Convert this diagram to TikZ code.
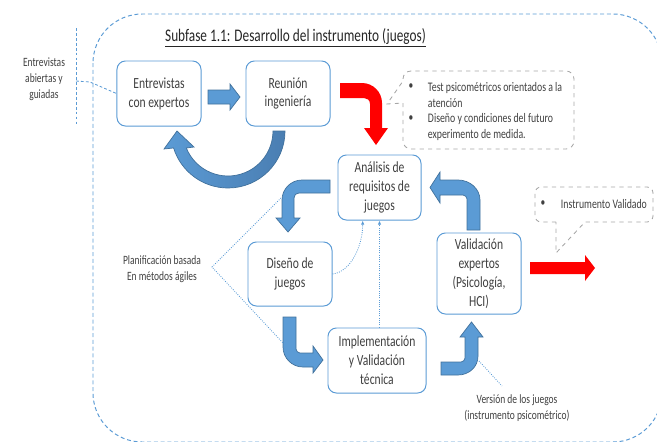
\documentclass[tikz,border=0pt]{standalone}
\usepackage{fontspec}
\setmainfont{Carlito}[FakeStretch=0.75]
\usetikzlibrary{arrows.meta}
\definecolor{boxblue}{HTML}{5B9BD5}
\definecolor{arrowedge}{HTML}{41719C}
\definecolor{arrowdark}{HTML}{4A7EB2}
\definecolor{textgray}{HTML}{404040}
\definecolor{notegray}{HTML}{A6A6A6}
\begin{document}
\begin{tikzpicture}[x=0.025cm, y=-0.025cm,
    stage/.style={draw=boxblue, fill=white, line width=0.7pt, rounded corners=6pt,
                  align=center, text=textgray, font=\fontsize{11}{13.5}\selectfont,
                  minimum width=2.1cm, minimum height=1.625cm, inner sep=1pt},
    bluearrow/.style={fill=boxblue, draw=arrowedge, line width=0.5pt},
    redarrow/.style={fill=red},
    callout/.style={draw=notegray, dashed, line width=0.6pt},
    dotlink/.style={draw=boxblue, densely dotted, line width=0.6pt},
    small/.style={text=textgray, font=\fontsize{9}{11.3}\selectfont, align=center}]
      \useasboundingbox (0, 0) rectangle (657, 441);
      \begin{scope}
        \clip (0, 0) rectangle (657, 441);
        \draw [boxblue, line width=0.7pt, dash pattern=on 2.8pt off 2pt, rounded corners=35pt]
              (93, 14) rectangle (662, 442);
      \end{scope}
      \node (title) at (295.5, 38) [font=\fontsize{12.6}{15}\selectfont, text=black!85]
            {\underline{Subfase 1.1: Desarrollo del instrumento (juegos)}};
      \node (entrev) [stage] at (159, 93.5) {Entrevistas\\con expertos};
      \node (reunion) [stage] at (288, 93.5) {Reunión\\ingeniería};
      \node (analisis) [stage, minimum width=2.075cm] at (379.5, 187.5) {Análisis de\\requisitos de\\juegos};
      \node (diseno) [stage, minimum height=1.6cm] at (290, 274) {Diseño de\\juegos};
      \node (implem) [stage, minimum width=2.45cm] at (377, 360.5) {Implementación\\y Validación\\técnica};
      \node (valid) [stage, minimum height=2.025cm] at (479, 273.5) {Validación\\expertos\\(Psicología,\\HCI)};
      \node (abiertas) [small] at (44, 79) {Entrevistas\\abiertas y\\guiadas};
      \coordinate (notept) at (76, 81);
      \coordinate (notebend) at (90, 82);
      \draw [boxblue, line width=0.7pt, dash pattern=on 2pt off 1.5pt] (76, 28) -- (76, 125);
      \draw [boxblue, line width=0.6pt, dash pattern=on 2pt off 1.5pt] (notept) -- (notebend) -- (entrev.west);
      \draw [bluearrow] (208, 90) -- (230, 90) -- (230, 84) -- (240, 97) -- (230, 110) -- (230, 104) -- (208, 104) -- cycle;
      \shadedraw [left color=boxblue, right color=arrowdark, draw=arrowedge, line width=0.5pt]
            (285, 131) arc [start angle=0, end angle=162.7, radius=57] -- (164, 149) -- (177, 131)
            -- (194, 147) -- (186.3, 148) arc [start angle=157.8, end angle=0, radius=45] -- cycle;
      \fill [redarrow] (340, 83) -- (362, 83) .. controls (373, 83) and (382, 92) .. (382, 103) -- (382, 128)
            -- (388, 128) -- (376, 145) -- (364, 128) -- (370, 128) -- (370, 104)
            .. controls (370, 100) and (367, 98) .. (364, 98) -- (340, 98) -- cycle;
      \draw [bluearrow] (330, 180) -- (302, 180) .. controls (291, 180) and (282, 189) .. (282, 200) -- (282, 218)
            -- (276, 218) -- (288, 232) -- (300, 218) -- (294, 218) -- (294, 198)
            .. controls (294, 195) and (296, 193) .. (299, 193) -- (330, 193) -- cycle;
      \draw [bluearrow] (283, 317) -- (283, 347) .. controls (283, 358) and (292, 367) .. (303, 367) -- (313, 367)
            -- (313, 373) -- (323, 360) -- (313, 346) -- (313, 353) -- (300, 353)
            .. controls (298, 353) and (296, 351) .. (296, 349) -- (296, 317) -- cycle;
      \draw [bluearrow] (441, 362) -- (461, 362) .. controls (463, 362) and (465, 360) .. (465, 358) -- (465, 337)
            -- (460, 337) -- (471.5, 322) -- (483, 337) -- (478, 337) -- (478, 356)
            .. controls (478, 367) and (469, 375) .. (458, 375) -- (441, 375) -- cycle;
      \draw [bluearrow] (467, 230) -- (467, 199) .. controls (467, 197) and (465, 195) .. (463, 195) -- (440, 195)
            -- (440, 203) -- (430, 187.5) -- (440, 172) -- (440, 180) -- (458, 180)
            .. controls (470, 180) and (480, 189) .. (480, 200) -- (480, 230) -- cycle;
      \fill [redarrow] (530, 262) -- (585, 262) -- (585, 255) -- (595, 268) -- (585, 281) -- (585, 274) -- (530, 274) -- cycle;
      \draw [callout] (403, 103) -- (403, 141) .. controls (403, 145.4) and (406.6, 149) .. (411, 149)
            -- (566, 149) .. controls (570.4, 149) and (574, 145.4) .. (574, 141)
            -- (574, 79) .. controls (574, 74.6) and (570.4, 71) .. (566, 71)
            -- (411, 71) .. controls (406.6, 71) and (403, 74.6) .. (403, 79)
            -- (403, 81) -- (387, 104) -- cycle;
      \node (bul1) [small] at (411, 87) {•};
      \node (test) [small, anchor=west, align=left, font=\fontsize{9.3}{11.3}\selectfont] at (423, 95) {Test psicométricos orientados a la\\atención};
      \node (bul2) [small] at (411, 119) {•};
      \node (futuro) [small, anchor=west, align=left, font=\fontsize{9.3}{11.3}\selectfont] at (423, 127) {Diseño y condiciones del futuro\\experimento de medida.};
      \draw [callout] (556, 222) -- (541, 222) .. controls (537.7, 222) and (535, 219.3) .. (535, 216)
            -- (535, 193) .. controls (535, 189.7) and (537.7, 187) .. (541, 187)
            -- (647, 187) .. controls (650.3, 187) and (653, 189.7) .. (653, 193)
            -- (653, 216) .. controls (653, 219.3) and (650.3, 222) .. (647, 222)
            -- (585, 222) -- (556, 253) -- cycle;
      \node (bul3) [small] at (543, 204) {•};
      \node (validado) [small, anchor=west, font=\fontsize{9.3}{11.3}\selectfont] at (556, 204) {Instrumento Validado};
      \node (plan) [small] at (162, 269.5) {Planificación basada\\En métodos ágiles};
      \coordinate (planpt) at (212, 267);
      \coordinate (bendtop) at (281, 198);
      \coordinate (bendlow) at (283, 343);
      \draw [dotlink] (bendtop) -- (planpt) -- (bendlow);
      \node (version) [small] at (517, 408) {Versión de los juegos\\(instrumento psicométrico)};
      \coordinate (bendright) at (479, 361);
      \coordinate (versionpt) at (502, 386);
      \draw [dotlink] (bendright) -- (versionpt);
      \draw [dotlink, -{Latex[length=3pt, width=2.5pt]}] (diseno.east) .. controls +(18, -2) and +(0, 26) .. (analisis.-117);
      \draw [dotlink, -{Latex[length=3pt, width=2.5pt]}] (implem.north -| analisis.south) -- (analisis.south);
\end{tikzpicture}
\end{document}
